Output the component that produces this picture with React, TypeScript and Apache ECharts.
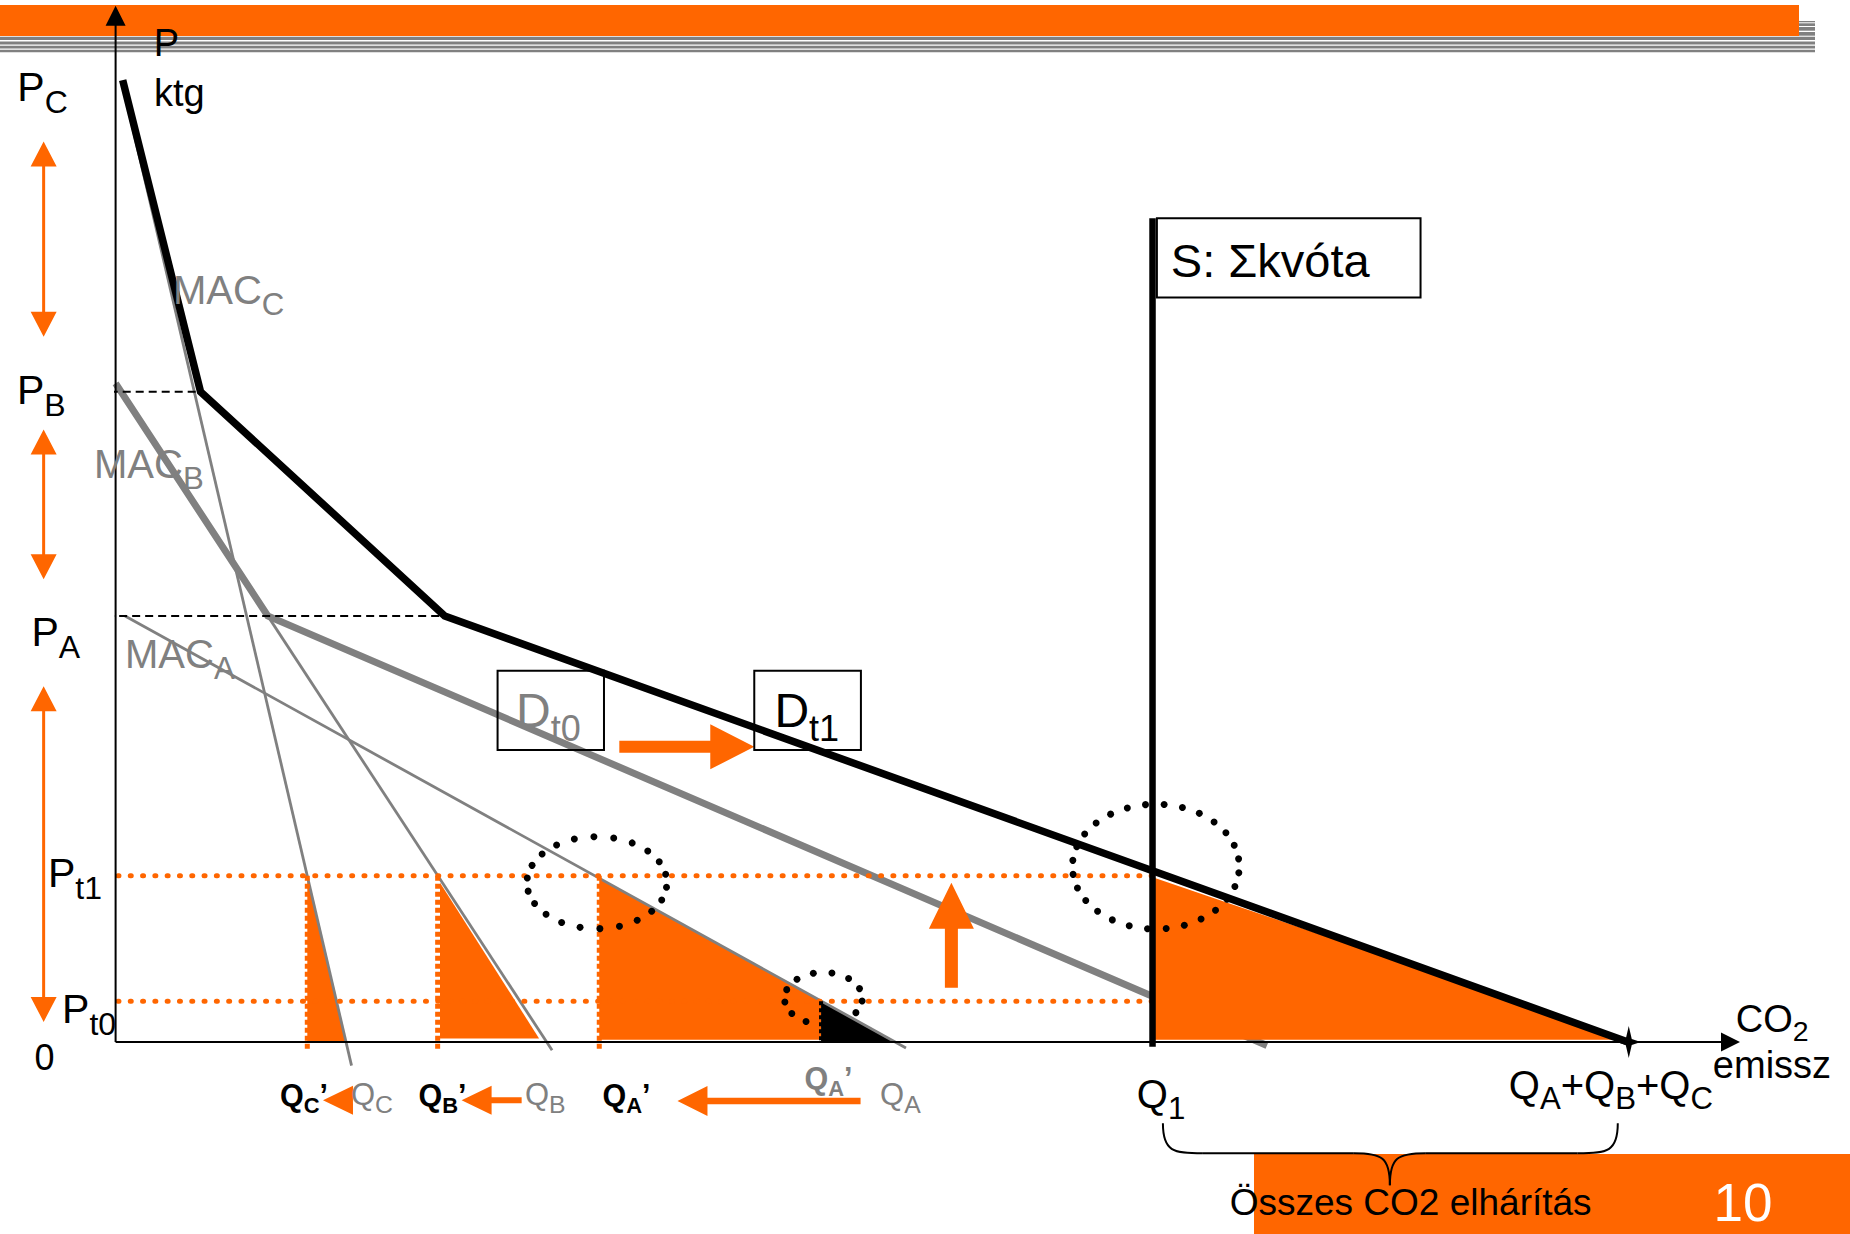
import React, { useEffect, useRef } from 'react';
import * as echarts from 'echarts';

const FONT = '"Liberation Sans", Arial, Helvetica, sans-serif';
const ORANGE = '#FF6600';
const GRAY = '#808080';
const BLACK = '#000000';

// ---- axis extents (quantity units / price units) ----
const X_MAX = 1377;
const Y_MAX = 878;

// ---- curves ----
const macC = [[6, 811], [200, -20]];
const macB = [[0, 558], [370, -7]];
const macA = [[8, 361], [670, -5]];
const demandT0 = [[0, 558], [129, 361], [976, -3]];
const demandT1 = [[6, 815], [72, 551], [279, 361], [1282, 0]];
const supplyS = [[879, -4], [879, 698]];

// ---- guide lines ----
const guidePB = [[-5, 551], [72, 551]];
const guidePA = [[-8, 361], [279, 361]];
const priceT1 = [[2, 140.8], [879, 140.8]];
const priceT0 = [[2, 34.5], [879, 34.5]];
const dropQC = [[162.5, 140.8], [162.5, -7]];
const dropQB = [[273, 140.8], [273, -7]];
const dropQA = [[410, 140.8], [410, -7]];
const dropQA0 = [[598, 34.5], [598, 0]];

// ---- shaded areas ----
const fillC = [[162.5, 140.8], [162.5, 0], [195.3, 0]];
const fillB = [[275, 135], [275, 3], [359, 3]];
const fillA = [[410, 139], [410, 2], [598, 2], [598, 35]];
const fillS = [[881, 139], [881, 2], [1282, 2]];
const lossA = [[598, 34.5], [598, 0], [660, 0]];

// ---- boxes [x0, y0, x1, y1] ----
const boxes = [
  [323.8, 247.3, 414, 314.5],
  [541.4, 247.3, 631.8, 314.5],
  [882.7, 630.7, 1106.2, 698],
];

// ---- dotted ellipses ----
const ellipseCenters = [[408, 135], [600, 37], [881.8, 148.6]];
const ellipseRadii = [[59.3, 39], [33, 22], [70.7, 52.9]];
const ellipseDots = [22, 13, 28];

// ---- arrows [fromX, fromY, toX, toY] ----
const arrowSegments = [
  [427, 250.1, 541.4, 250.1],
  [708.5, 46, 708.5, 135],
  [201.2, -49.4, 175.8, -49.4],
  [344.2, -49.4, 293.3, -49.4],
  [631.5, -50, 476.3, -50],
];
const rangeArrows = [
  [-61, 597.6, -61, 763],
  [-61, 392, -61, 519],
  [-61, 17, -61, 301.5],
];
const axisArrows = [[0, 0, X_MAX, 0], [0, 0, 0, Y_MAX]];

// ---- brace ----
const braceSpan = [887.8, 1273.4];
const braceLevels = [-68.9, -94.3, -121.4];
const braceTipX = 1080.2;

// ---- end point ----
const totalEmission = [1282.7, 0];

// ---- labels: parts [text, isSub], anchor [x, baseline y] ----
const priceLabels = [
  { parts: [['P'], ['C', 1]], at: [-83.3, 796.8] },
  { parts: [['P'], ['B', 1]], at: [-83.6, 540.3] },
  { parts: [['P'], ['A', 1]], at: [-71.3, 334.9] },
  { parts: [['P'], ['t1', 1]], at: [-57.3, 130.9] },
  { parts: [['P'], ['t0', 1]], at: [-45.4, 15.6] },
];
const axisTitles = [
  { parts: [['P']], at: [32.3, 835.5] },
  { parts: [['ktg']], at: [32.5, 792.6] },
  { parts: [['CO'], ['2', 1]], at: [1373.4, 8.5] },
  { parts: [['emissz']], at: [1354, -31] },
];
const macLabels = [
  { parts: [['MAC'], ['C', 1]], at: [48.6, 625.3] },
  { parts: [['MAC'], ['B', 1]], at: [-18.3, 477.6] },
  { parts: [['MAC'], ['A', 1]], at: [8, 316.5] },
];
const demandLabels = [
  { parts: [['D'], ['t0', 1]], at: [339.4, 266.5], color: GRAY },
  { parts: [['D'], ['t1', 1]], at: [558.5, 266.5], color: BLACK },
];
const newQuantityLabels = [
  { parts: [['Q'], ['C', 1], ['\u2019']], at: [139.3, -54], color: BLACK },
  { parts: [['Q'], ['B', 1], ['\u2019']], at: [256.7, -54], color: BLACK },
  { parts: [['Q'], ['A', 1], ['\u2019']], at: [412.7, -54], color: BLACK },
  { parts: [['Q'], ['A', 1], ['\u2019']], at: [584, -39.5], color: GRAY },
];
const oldQuantityLabels = [
  { parts: [['Q'], ['C', 1]], at: [199.5, -54] },
  { parts: [['Q'], ['B', 1]], at: [347, -54] },
  { parts: [['Q'], ['A', 1]], at: [648, -54] },
];
const marketLabels = [
  { parts: [['Q'], ['1', 1]], at: [865.7, -56] },
  { parts: [['Q'], ['A', 1], ['+Q'], ['B', 1], ['+Q'], ['C', 1]], at: [1181, -48] },
];
const supplyLabel = [{ parts: [['S: \u03A3kv\u00F3ta']], at: [894.5, 648.5] }];
const zeroLabel = [{ parts: [['0']], at: [-60.3, -23.4], align: 'center' }];
const braceLabel = [{ parts: [['\u00D6sszes CO2 elh\u00E1r\u00EDt\u00E1s']], at: [1097.8, -146.8], align: 'center' }];

let measureCtx: CanvasRenderingContext2D | null = null;
function textWidth(t: string, size: number, bold: boolean) {
  if (!measureCtx) {
    const c = document.createElement('canvas');
    measureCtx = c.getContext('2d');
  }
  if (!measureCtx) return t.length * size * 0.55;
  measureCtx.font = `${bold ? 'bold ' : ''}${size}px ${FONT}`;
  return measureCtx.measureText(t).width;
}

function labelSeries(id: string, items: any[], style: any, z = 10) {
  const { size, color = BLACK, bold = false, sub = 0.78, drop = 0.28 } = style;
  return {
    type: 'custom',
    id,
    coordinateSystem: 'cartesian2d',
    z,
    clip: false,
    silent: true,
    data: items.map((it) => it.at),
    renderItem: (params: any, api: any) => {
      const it = items[params.dataIndex];
      const [px, py] = api.coord(it.at);
      const sizes = it.parts.map((p: any) => (p[1] ? size * sub : size));
      const widths = it.parts.map((p: any, i: number) => textWidth(p[0], sizes[i], bold));
      const total = widths.reduce((a: number, b: number) => a + b, 0);
      let cx = it.align === 'center' ? px - total / 2 : px;
      const fill = it.color || color;
      const children = it.parts.map((p: any, i: number) => {
        const base = py + (p[1] ? size * drop : 0);
        const el = {
          type: 'text',
          x: cx,
          y: base - 0.35 * sizes[i],
          style: {
            text: p[0],
            fill,
            fontSize: sizes[i],
            fontFamily: FONT,
            fontWeight: bold ? 'bold' : 'normal',
            align: 'left',
            verticalAlign: 'middle',
            textAlign: 'left',
            textVerticalAlign: 'middle',
          },
        };
        cx += widths[i];
        return el;
      });
      return { type: 'group', children };
    },
  };
}

function lineSeries(id: string, data: number[][], color: string, width: number, z: number, extra: any = {}) {
  return {
    type: 'line',
    id,
    data,
    z,
    clip: false,
    silent: true,
    symbol: 'none',
    showSymbol: false,
    lineStyle: { color, width, cap: 'butt', join: 'miter', ...extra },
    emphasis: { disabled: true },
  };
}

function polygonSeries(id: string, polys: number[][][], color: string, z: number) {
  return {
    type: 'custom',
    id,
    coordinateSystem: 'cartesian2d',
    z,
    clip: false,
    silent: true,
    data: polys.map((p) => p[0]),
    renderItem: (params: any, api: any) => ({
      type: 'polygon',
      shape: { points: polys[params.dataIndex].map((pt) => api.coord(pt)) },
      style: { fill: color },
    }),
  };
}

function arrowPoints(p0: number[], p1: number[], sh: number, hl: number, hh: number, dbl: boolean) {
  const dx = p1[0] - p0[0];
  const dy = p1[1] - p0[1];
  const L = Math.hypot(dx, dy);
  const ux = dx / L, uy = dy / L;
  const nx = -uy, ny = ux;
  const pt = (t: number, s: number) => [p0[0] + ux * t + nx * s, p0[1] + uy * t + ny * s];
  if (!dbl) {
    return [pt(0, -sh), pt(L - hl, -sh), pt(L - hl, -hh), pt(L, 0), pt(L - hl, hh), pt(L - hl, sh), pt(0, sh)];
  }
  return [pt(0, 0), pt(hl, -hh), pt(hl, -sh), pt(L - hl, -sh), pt(L - hl, -hh), pt(L, 0), pt(L - hl, hh), pt(L - hl, sh), pt(hl, sh), pt(hl, hh)];
}

function arrowSeries(id: string, segs: number[][], shapes: number[][], color: string, dbl: boolean, z: number) {
  return {
    type: 'custom',
    id,
    coordinateSystem: 'cartesian2d',
    z,
    clip: false,
    silent: true,
    data: segs.map((s) => [s[0], s[1]]),
    renderItem: (params: any, api: any) => {
      const s = segs[params.dataIndex];
      const [sh, hl, hh] = shapes[params.dataIndex] || shapes[0];
      const p0 = api.coord([s[0], s[1]]);
      const p1 = api.coord([s[2], s[3]]);
      return { type: 'polygon', shape: { points: arrowPoints(p0, p1, sh, hl, hh, dbl) }, style: { fill: color } };
    },
  };
}

function buildOption() {
  const dotStyle = { type: [1, 11.3], cap: 'round' };
  const series: any[] = [
    lineSeries('demandT0', demandT0, GRAY, 7, 3),
    polygonSeries('fills', [fillC, fillB, fillA, fillS], ORANGE, 4),
    polygonSeries('lossA', [lossA], BLACK, 4),
    lineSeries('macC', macC, GRAY, 2.8, 5),
    lineSeries('macB', macB, GRAY, 2.8, 5),
    lineSeries('macA', macA, GRAY, 2.8, 5),
    lineSeries('priceT1', priceT1, ORANGE, 5, 6, dotStyle),
    lineSeries('priceT0', priceT0, ORANGE, 5, 6, dotStyle),
    lineSeries('dropQC', dropQC, ORANGE, 5, 6, { type: [5, 3] }),
    lineSeries('dropQB', dropQB, ORANGE, 5, 6, { type: [5, 3] }),
    lineSeries('dropQA', dropQA, ORANGE, 5, 6, { type: [5, 3] }),
    lineSeries('dropQA0', dropQA0, BLACK, 4, 6, { type: [4, 3] }),
    lineSeries('guidePB', guidePB, BLACK, 2, 7, { type: [8, 5] }),
    lineSeries('guidePA', guidePA, BLACK, 2, 7, { type: [8, 5] }),
    lineSeries('demandT1', demandT1, BLACK, 7.5, 7),
    lineSeries('supplyS', supplyS, BLACK, 6.5, 7),
    arrowSeries('axes', axisArrows, [[1, 19, 9.5], [1, 20, 10]], BLACK, false, 7),
    arrowSeries('shifts', arrowSegments, [[6, 44, 22.5], [6.5, 46, 22.5], [3, 30, 14.5], [3, 30, 14.5], [3.3, 30, 15]], ORANGE, false, 8),
    arrowSeries('ranges', rangeArrows, [[1.5, 25, 13]], ORANGE, true, 8),
    {
      type: 'custom',
      id: 'boxes',
      coordinateSystem: 'cartesian2d',
      z: 8,
      clip: false,
      silent: true,
      data: boxes.map((b) => [b[0], b[1]]),
      renderItem: (params: any, api: any) => {
        const b = boxes[params.dataIndex];
        const a = api.coord([b[0], b[3]]);
        const c = api.coord([b[2], b[1]]);
        return {
          type: 'rect',
          shape: { x: a[0], y: a[1], width: c[0] - a[0], height: c[1] - a[1] },
          style: { fill: 'none', stroke: BLACK, lineWidth: 2 },
        };
      },
    },
    {
      type: 'custom',
      id: 'ellipses',
      coordinateSystem: 'cartesian2d',
      z: 9,
      clip: false,
      silent: true,
      data: ellipseCenters,
      renderItem: (params: any, api: any) => {
        const i = params.dataIndex;
        const cen = ellipseCenters[i];
        const rad = ellipseRadii[i];
        const c = api.coord(cen);
        const e = api.coord([cen[0] + rad[0], cen[1] + rad[1]]);
        const rx = Math.abs(e[0] - c[0]);
        const ry = Math.abs(e[1] - c[1]);
        const n = ellipseDots[i];
        const children = [];
        for (let k = 0; k < n; k++) {
          const t = (2 * Math.PI * k) / n + 0.1;
          children.push({
            type: 'circle',
            shape: { cx: c[0] + rx * Math.cos(t), cy: c[1] + ry * Math.sin(t), r: 3.5 },
            style: { fill: BLACK },
          });
        }
        return { type: 'group', children };
      },
    },
    {
      type: 'custom',
      id: 'star',
      coordinateSystem: 'cartesian2d',
      z: 9,
      clip: false,
      silent: true,
      data: [totalEmission],
      renderItem: (params: any, api: any) => {
        const [x, y] = api.coord(totalEmission);
        const o = [[0, -16], [3, -3], [12, 0], [3, 3], [0, 16], [-3, 3], [-12, 0], [-3, -3]];
        return { type: 'polygon', shape: { points: o.map((p) => [x + p[0], y + p[1]]) }, style: { fill: BLACK } };
      },
    },
    {
      type: 'custom',
      id: 'brace',
      coordinateSystem: 'cartesian2d',
      z: 9,
      clip: false,
      silent: true,
      data: [[braceTipX, braceLevels[2]]],
      renderItem: (params: any, api: any) => {
        const [xl, yt] = api.coord([braceSpan[0], braceLevels[0]]);
        const [xr] = api.coord([braceSpan[1], braceLevels[0]]);
        const [, yh] = api.coord([braceTipX, braceLevels[1]]);
        const [xc, yb] = api.coord([braceTipX, braceLevels[2]]);
        const r1 = 40, r2 = 36;
        const st = { stroke: BLACK, lineWidth: 2, fill: 'none' };
        return {
          type: 'group',
          children: [
            { type: 'bezierCurve', shape: { x1: xl, y1: yt, cpx1: xl, cpy1: yh - 2, cpx2: xl + 10, cpy2: yh, x2: xl + r1, y2: yh }, style: st },
            { type: 'line', shape: { x1: xl + r1, y1: yh, x2: xc - r2, y2: yh }, style: st },
            { type: 'bezierCurve', shape: { x1: xc - r2, y1: yh, cpx1: xc - 8, cpy1: yh, cpx2: xc, cpy2: yh + 4, x2: xc, y2: yb }, style: st },
            { type: 'bezierCurve', shape: { x1: xc, y1: yb, cpx1: xc, cpy1: yh + 4, cpx2: xc + 8, cpy2: yh, x2: xc + r2, y2: yh }, style: st },
            { type: 'line', shape: { x1: xc + r2, y1: yh, x2: xr - r1, y2: yh }, style: st },
            { type: 'bezierCurve', shape: { x1: xr - r1, y1: yh, cpx1: xr - 10, cpy1: yh, cpx2: xr, cpy2: yh - 2, x2: xr, y2: yt }, style: st },
          ],
        };
      },
    },
    labelSeries('priceLabels', priceLabels, { size: 41 }),
    labelSeries('axisTitles', axisTitles, { size: 38, sub: 0.75, drop: 0.24 }),
    labelSeries('zeroLabel', zeroLabel, { size: 36 }),
    labelSeries('macLabels', macLabels, { size: 40, color: GRAY }),
    labelSeries('demandLabels', demandLabels, { size: 48, sub: 0.75 }),
    labelSeries('supplyLabel', supplyLabel, { size: 47 }),
    labelSeries('newQ', newQuantityLabels, { size: 30.5, bold: true, sub: 0.72, drop: 0.25 }),
    labelSeries('oldQ', oldQuantityLabels, { size: 31, color: GRAY, sub: 0.8, drop: 0.25 }),
    labelSeries('marketQ', marketLabels, { size: 40, sub: 0.78 }),
    labelSeries('braceLabel', braceLabel, { size: 37 }),
  ];

  const stripes = [[36.7, 3.3], [41.6, 2.8], [45.7, 2.8], [49.8, 2.4]];
  const sideStripes = [[21, 1.3], [23.3, 2.7], [27, 3.7], [32, 3.7]];
  const graphicEls: any[] = [
    { type: 'rect', z: 0, shape: { x: 0, y: 5, width: 1799, height: 31 }, style: { fill: ORANGE } },
    ...stripes.map(([y, h]) => ({ type: 'rect', z: 0, shape: { x: 0, y, width: 1815, height: h }, style: { fill: GRAY } })),
    ...sideStripes.map(([y, h]) => ({ type: 'rect', z: 0, shape: { x: 1799, y, width: 16, height: h }, style: { fill: GRAY } })),
    { type: 'rect', z: 0, shape: { x: 1254, y: 1154, width: 596, height: 80 }, style: { fill: ORANGE } },
    {
      type: 'text',
      z: 1,
      x: 1743,
      y: 1220.7 - 0.35 * 53,
      style: {
        text: '10',
        fill: '#FFFFFF',
        fontSize: 53,
        fontFamily: FONT,
        align: 'center',
        verticalAlign: 'middle',
        textAlign: 'center',
        textVerticalAlign: 'middle',
      },
    },
  ];

  return {
    animation: false,
    backgroundColor: '#FFFFFF',
    grid: { left: 115.6, right: 110, top: 5.7, bottom: 192, show: false, containLabel: false },
    xAxis: { type: 'value', min: 0, max: X_MAX, show: false },
    yAxis: { type: 'value', min: 0, max: Y_MAX, show: false },
    tooltip: { show: false },
    graphic: { elements: graphicEls },
    series,
  };
}

export default function App() {
  const ref = useRef<HTMLDivElement>(null);
  useEffect(() => {
    document.documentElement.style.margin = '0';
    document.documentElement.style.padding = '0';
    document.body.style.margin = '0';
    document.body.style.padding = '0';
    if (!ref.current) return;
    const chart = echarts.init(ref.current, null, { renderer: 'svg' });
    chart.setOption(buildOption() as any);
    return () => chart.dispose();
  }, []);
  return (
    <div
      ref={ref}
      style={{ position: 'absolute', left: 0, top: 0, width: 1850, height: 1234, background: '#FFFFFF' }}
    />
  );
}
